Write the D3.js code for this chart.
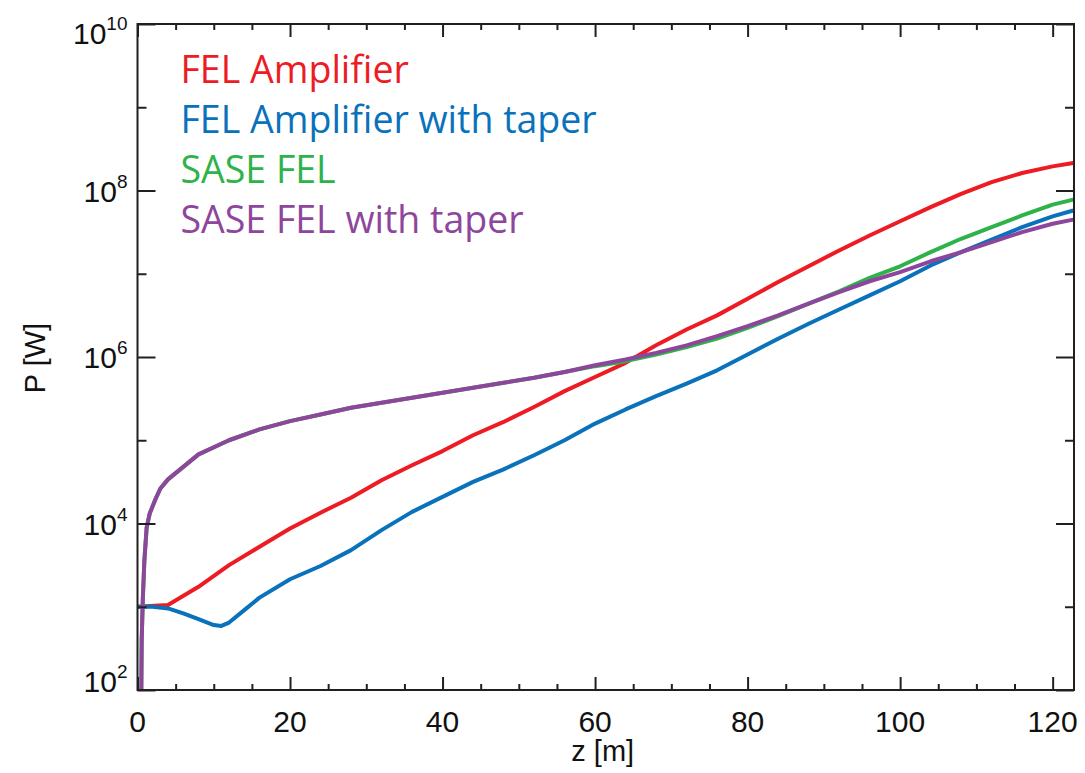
<!DOCTYPE html>
<html>
<head>
<meta charset="utf-8">
<script src="https://cdn.jsdelivr.net/npm/d3@7"></script>
<style>
  body { margin: 0; background: #fff; }
  svg { display: block; }
</style>
</head>
<body>
<svg id="chart_svg" width="1085" height="773"></svg>
<script>
// data: z in metres, power as log10(P [W])
var ampZ = [0, 4, 8, 12, 16, 20, 24, 28, 32, 36, 40, 44, 48, 52, 56, 60, 64, 68, 72, 76, 80,
            84, 88, 92, 96, 100, 104, 108, 112, 116, 120, 122.7];
var ampLogP = [3.00, 3.02, 3.24, 3.50, 3.72, 3.94, 4.13, 4.31, 4.52, 4.70, 4.87, 5.06, 5.22, 5.40, 5.59, 5.76,
               5.93, 6.14, 6.33, 6.50, 6.70, 6.90, 7.09, 7.28, 7.46, 7.63, 7.80, 7.96, 8.10, 8.21, 8.29, 8.33];

var taperZ = [0, 2, 4, 6, 8, 10, 11, 12, 14, 16, 20, 24, 28, 32, 36, 40, 44, 48, 52, 56, 60, 64, 68,
              72, 76, 80, 84, 88, 92, 96, 100, 104, 108, 112, 116, 120, 122.7];
var taperLogP = [3.00, 3.00, 2.98, 2.92, 2.85, 2.78, 2.77, 2.81, 2.96, 3.11, 3.33, 3.49, 3.68, 3.92, 4.14,
                 4.32, 4.50, 4.65, 4.82, 5.00, 5.20, 5.37, 5.53, 5.68, 5.84, 6.03, 6.22, 6.40, 6.57, 6.74,
                 6.91, 7.10, 7.26, 7.41, 7.56, 7.69, 7.76];

var saseZ = [0.5, 0.55, 0.7, 0.9, 1.2, 1.6, 2.3, 3, 4, 6, 8, 12, 16, 20, 24, 28, 32, 36, 40, 44, 48, 52, 56,
             60, 64, 68, 72, 76, 80, 84, 88, 92, 96, 100, 104, 108, 112, 116, 120, 122.7];
var saseLogP = [2.0, 2.6, 3.1, 3.55, 3.95, 4.12, 4.28, 4.42, 4.53, 4.68, 4.83, 5.00, 5.13, 5.23, 5.31, 5.39,
                5.45, 5.51, 5.57, 5.63, 5.69, 5.75, 5.82, 5.89, 5.95, 6.03, 6.12, 6.22, 6.35, 6.49, 6.64,
                6.79, 6.95, 7.09, 7.26, 7.42, 7.56, 7.70, 7.83, 7.89];
var saseTaperLogP = [2.0, 2.6, 3.1, 3.55, 3.95, 4.12, 4.28, 4.42, 4.53, 4.68, 4.83, 5.00, 5.13, 5.23, 5.31, 5.39,
                     5.45, 5.51, 5.57, 5.63, 5.69, 5.75, 5.82, 5.90, 5.97, 6.05, 6.14, 6.25, 6.37, 6.50, 6.64,
                     6.78, 6.91, 7.02, 7.15, 7.26, 7.38, 7.50, 7.60, 7.65];

var seriesNames = ["FEL Amplifier", "FEL Amplifier with taper", "SASE FEL", "SASE FEL with taper"];
var seriesColors = ["#ed1c24", "#0a71bb", "#2db34a", "#8e469c"];

var xMajorTicks = [0, 20, 40, 60, 80, 100, 120];
var yMajorExp = [2, 4, 6, 8, 10];
var yMinorExp = [3, 5, 7, 9];

var margin = {top: 24, left: 137.5, right: 11, bottom: 83};
var svgWidth = 1085, svgHeight = 773;
var innerWidth = svgWidth - margin.left - margin.right;
var innerHeight = svgHeight - margin.top - margin.bottom;
var axisColor = "#231f20";
var tickFont = "'Liberation Sans', Arial, Helvetica, sans-serif";

document.addEventListener('DOMContentLoaded', function () {
    var svg = d3.select("#chart_svg");
    var g = svg.append('g')
        .attr('transform', 'translate(' + margin.left + ', ' + margin.top + ')');

    var xScale = d3.scaleLinear().domain([0, 122.8]).range([0, innerWidth]);
    var yScale = d3.scaleLog().domain([1e2, 1e10]).range([innerHeight, 0]);

    g.append('clipPath').attr('id', 'plot_clip')
        .append('rect').attr('width', innerWidth).attr('height', innerHeight);

    // lines
    var series = [
        {z: ampZ, p: ampLogP},
        {z: taperZ, p: taperLogP},
        {z: saseZ, p: saseLogP},
        {z: saseZ, p: saseTaperLogP}
    ];
    var line = d3.line()
        .x(d => xScale(d[0]))
        .y(d => yScale(Math.pow(10, d[1])));
    var gLines = g.append('g').attr('clip-path', 'url(#plot_clip)');
    series.forEach(function (s, i) {
        gLines.append('path')
            .datum(s.z.map((z, j) => [z, s.p[j]]))
            .attr('d', line)
            .attr('fill', 'none')
            .attr('stroke', seriesColors[i])
            .attr('stroke-width', 4)
            .attr('stroke-linejoin', 'round');
    });

    // x axis: bottom and top, inward ticks
    var xMinor = d3.range(0, 123, 5).filter(v => v % 20 != 0);
    function xAxisPair(axisFn, ty) {
        g.append('g').attr('transform', 'translate(0,' + ty + ')')
            .call(axisFn(xScale).tickValues(xMinor).tickSize(-6).tickSizeOuter(0).tickFormat(''));
        g.append('g').attr('transform', 'translate(0,' + ty + ')')
            .call(axisFn(xScale).tickValues(xMajorTicks).tickSize(-13).tickSizeOuter(0).tickFormat(''));
    }
    xAxisPair(d3.axisBottom, innerHeight);
    xAxisPair(d3.axisTop, 0);

    function yAxisPair(axisFn, tx) {
        g.append('g').attr('transform', 'translate(' + tx + ',0)')
            .call(axisFn(yScale).tickValues(yMinorExp.map(e => Math.pow(10, e))).tickSize(-9).tickSizeOuter(0).tickFormat(''));
        g.append('g').attr('transform', 'translate(' + tx + ',0)')
            .call(axisFn(yScale).tickValues(yMajorExp.map(e => Math.pow(10, e))).tickSize(-18).tickSizeOuter(0).tickFormat(''));
    }
    yAxisPair(d3.axisLeft, 0);
    yAxisPair(d3.axisRight, innerWidth);

    g.selectAll('.domain').remove();
    g.selectAll('.tick text').remove();
    g.selectAll('.tick line').attr('stroke', axisColor).attr('stroke-width', 2);

    // box
    g.append('rect')
        .attr('width', innerWidth).attr('height', innerHeight)
        .attr('fill', 'none').attr('stroke', axisColor).attr('stroke-width', 2);

    // x tick labels
    g.selectAll('.xlabel').data(xMajorTicks).enter().append('text')
        .attr('x', d => xScale(d))
        .attr('y', innerHeight + 42)
        .attr('text-anchor', 'middle')
        .attr('font-family', tickFont).attr('font-size', 30)
        .attr('fill', '#111')
        .text(d => d);

    // y tick labels as 10^n
    var yl = g.selectAll('.ylabel').data(yMajorExp).enter().append('text')
        .attr('x', -10)
        .attr('y', function (d, i) {
            var off = 11;
            if (i == 0) off = 2;
            if (i == yMajorExp.length - 1) off = 20;
            return yScale(Math.pow(10, d)) + off;
        })
        .attr('text-anchor', 'end')
        .attr('font-family', tickFont).attr('font-size', 30)
        .attr('fill', '#111');
    yl.append('tspan').text('10');
    yl.append('tspan').attr('dy', -14).attr('font-size', 19).text(d => d);

    // axis titles
    svg.append('text')
        .attr('x', margin.left + xScale(61))
        .attr('y', 761)
        .attr('text-anchor', 'middle')
        .attr('font-family', tickFont).attr('font-size', 29)
        .attr('fill', '#111')
        .text('z [m]');
    svg.append('text')
        .attr('transform', 'translate(45,' + 358 + ') rotate(-90)')
        .attr('text-anchor', 'middle')
        .attr('font-family', tickFont).attr('font-size', 29)
        .attr('fill', '#111')
        .text('P [W]');

    // legend
    g.selectAll('.legend').data(seriesNames).enter().append('text')
        .attr('x', 43)
        .attr('y', (d, i) => 59 + i * 50)
        .attr('font-family', "'Open Sans', 'Noto Sans', sans-serif")
        .attr('font-size', 37.5)
        .attr('fill', (d, i) => seriesColors[i])
        .text(d => d);
});
</script>
</body>
</html>
